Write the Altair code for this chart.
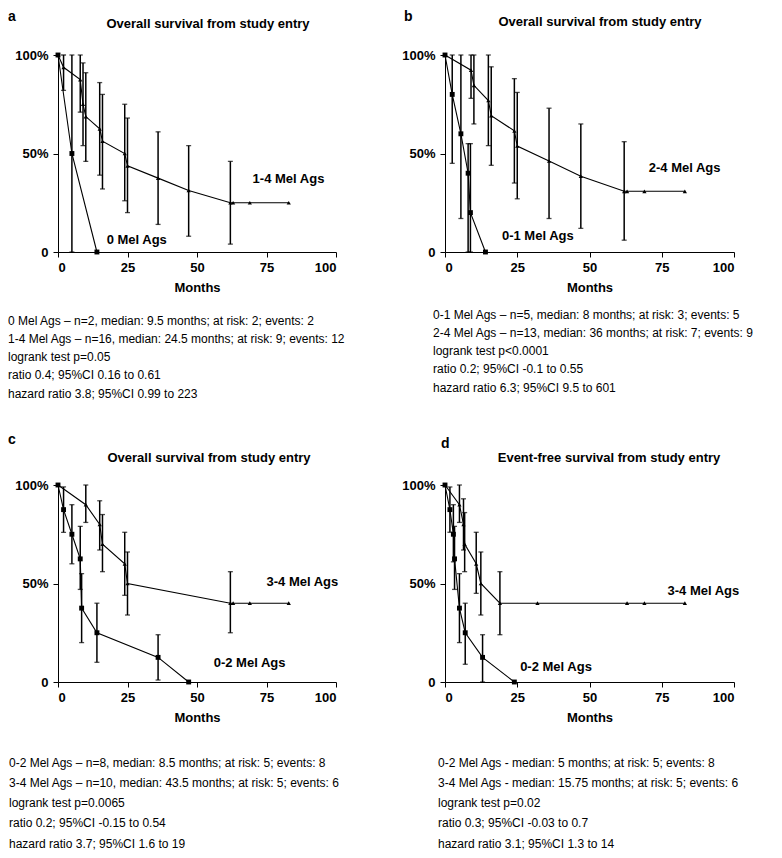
import altair as alt
import pandas as pd

FONT = "Liberation Sans"

# ---------------- Panel a ----------------
a_lo_x = [0, 5, 14]
a_lo_y = [100, 50, 0]
a_lo_err_x = [5]
a_lo_err_lo = [0]
a_lo_err_hi = [100]
a_hi_x = [0, 2, 8, 9, 10, 15, 16, 24, 25, 36, 47, 62, 63, 69, 83]
a_hi_y = [100, 93.75, 87.5, 75, 68.75, 62.5, 56.25, 50, 43.75, 37.5, 31.25, 25, 25, 25, 25]
a_hi_err_x = [2, 8, 9, 10, 15, 16, 24, 25, 36, 47, 62]
a_hi_err_lo = [82, 71, 54, 46, 39, 32, 26, 20, 14, 8, 4]
a_hi_err_hi = [100, 100, 96, 91, 86, 80, 75, 68, 61, 54, 46]
a_labels = ["1-4 Mel Ags", "0 Mel Ags"]
a_label_x = [70, 17.5]
a_label_y = [37, 6]
a_stats = [
    "0 Mel Ags – n=2, median: 9.5 months; at risk: 2; events: 2",
    "1-4 Mel Ags – n=16, median: 24.5 months; at risk: 9; events: 12",
    "logrank test p=0.05",
    "ratio 0.4; 95%CI 0.16 to 0.61",
    "hazard ratio 3.8; 95%CI 0.99 to 223",
]

# ---------------- Panel b ----------------
b_lo_x = [0, 2.5, 5.5, 8, 8.8, 14]
b_lo_y = [100, 80, 60, 40, 20, 0]
b_lo_err_x = [2.5, 5.5, 8, 8.8]
b_lo_err_lo = [45, 17, 0, 0]
b_lo_err_hi = [100, 100, 55, 55]
b_hi_x = [0, 9, 10, 15, 16, 24, 25, 36, 47, 62, 63, 69, 83]
b_hi_y = [100, 92.3, 84.6, 76.9, 69.2, 61.5, 53.8, 46.2, 38.5, 30.8, 30.8, 30.8, 30.8]
b_hi_err_x = [9, 10, 15, 16, 24, 25, 36, 47, 62]
b_hi_err_lo = [78, 65, 54, 44, 35, 27, 17, 12, 6]
b_hi_err_hi = [100, 100, 100, 94, 88, 81, 73, 65, 56]
b_labels = ["2-4 Mel Ags", "0-1 Mel Ags"]
b_label_x = [70.5, 19.7]
b_label_y = [42.5, 8]
b_stats = [
    "0-1 Mel Ags – n=5, median: 8 months; at risk: 3; events: 5",
    "2-4 Mel Ags – n=13, median: 36 months; at risk: 7; events: 9",
    "logrank test p<0.0001",
    "ratio 0.2; 95%CI -0.1 to 0.55",
    "hazard ratio 6.3; 95%CI 9.5 to 601",
]

# ---------------- Panel c ----------------
c_lo_x = [0, 2, 5, 8, 8.5, 14, 36, 47]
c_lo_y = [100, 87.5, 75, 62.5, 37.5, 25, 12.5, 0]
c_lo_err_x = [2, 5, 8, 8.5, 14, 36]
c_lo_err_lo = [76, 60, 47, 20, 10, 1]
c_lo_err_hi = [99, 90, 79, 55, 40, 24]
c_hi_x = [0, 10, 15, 16, 24, 25, 62, 63, 69, 83]
c_hi_y = [100, 90, 80, 70, 60, 50, 40, 40, 40, 40]
c_hi_err_x = [10, 15, 16, 24, 25, 62]
c_hi_err_lo = [81, 67, 56, 44, 34, 25]
c_hi_err_hi = [100, 92, 85, 76, 66, 56]
c_labels = ["3-4 Mel Ags", "0-2 Mel Ags"]
c_label_x = [75, 56]
c_label_y = [51, 9.6]
c_stats = [
    "0-2 Mel Ags – n=8, median: 8.5 months; at risk: 5; events: 8",
    "3-4 Mel Ags – n=10, median: 43.5 months; at risk: 5; events: 6",
    "logrank test p=0.0065",
    "ratio 0.2; 95%CI -0.15 to 0.54",
    "hazard ratio 3.7; 95%CI 1.6 to 19",
]

# ---------------- Panel d ----------------
d_lo_x = [0, 1.7, 2.9, 3.3, 5, 7, 13, 24]
d_lo_y = [100, 87.5, 75, 62.5, 37.5, 25, 12.5, 0]
d_lo_err_x = [1.7, 2.9, 3.3, 5, 7, 13]
d_lo_err_lo = [76, 61, 47, 20, 9, 0]
d_lo_err_hi = [99, 90, 79, 55, 40, 24]
d_hi_x = [0, 5, 6.4, 6.8, 10.8, 12.4, 19, 32, 63, 69, 83]
d_hi_y = [100, 90, 80, 70, 60, 50, 40, 40, 40, 40, 40]
d_hi_err_x = [5, 6.4, 6.8, 10.8, 12.4, 19]
d_hi_err_lo = [81, 67, 56, 45, 34, 24]
d_hi_err_hi = [100, 93, 86, 76, 66, 56]
d_labels = ["3-4 Mel Ags", "0-2 Mel Ags"]
d_label_x = [77, 26]
d_label_y = [46, 7.7]
d_stats = [
    "0-2 Mel Ags - median: 5 months; at risk: 5; events: 8",
    "3-4 Mel Ags - median: 15.75 months; at risk: 5; events: 6",
    "logrank test p=0.02",
    "ratio 0.3; 95%CI -0.03 to 0.7",
    "hazard ratio 3.1; 95%CI 1.3 to 14",
]

TITLE_OS = "Overall survival from study entry"
TITLE_EFS = "Event-free survival from study entry"


def make_panel(letter, title, lo_x, lo_y, lo_ex, lo_el, lo_eh, hi_x, hi_y, hi_ex, hi_el, hi_eh,
               labels, lab_x, lab_y, stats, width, height, letter_pos, title_pos, stats_pos):
    xscale = alt.Scale(domain=[0, 100], nice=False)
    yscale = alt.Scale(domain=[0, 100], nice=False)
    xaxis = alt.Axis(values=[0, 25, 50, 75, 100], title="Months", tickSize=5,
                     labelPadding=4, titlePadding=7)
    yaxis = alt.Axis(values=[0, 50, 100], title=None, tickSize=5, labelPadding=5,
                     labelExpr="datum.value == 0 ? '0' : datum.value + '%'")

    def X(f):
        return alt.X(f + ":Q", scale=xscale, axis=xaxis)

    def Y(f):
        return alt.Y(f + ":Q", scale=yscale, axis=yaxis)

    lo = pd.DataFrame({"x": lo_x, "y": lo_y, "i": range(len(lo_x))})
    hi = pd.DataFrame({"x": hi_x, "y": hi_y, "i": range(len(hi_x))})
    err = pd.DataFrame({"x": list(lo_ex) + list(hi_ex),
                        "lo": list(lo_el) + list(hi_el),
                        "hi": list(lo_eh) + list(hi_eh)})
    caps = pd.DataFrame({"x": list(err["x"]) * 2,
                         "y": list(err["lo"]) + list(err["hi"])})
    lab = pd.DataFrame({"t": labels, "x": lab_x, "y": lab_y})
    one = pd.DataFrame({"d": [0]})

    rules = alt.Chart(err).mark_rule(color="black", strokeWidth=1.5).encode(
        x=X("x"), y=Y("lo"), y2="hi:Q")
    capm = alt.Chart(caps).mark_tick(color="black", orient="horizontal", size=5,
                                     thickness=1.3).encode(x=X("x"), y=Y("y"))
    line_lo = alt.Chart(lo).mark_line(color="black", strokeWidth=1.1).encode(
        x=X("x"), y=Y("y"), order="i:Q")
    line_hi = alt.Chart(hi).mark_line(color="black", strokeWidth=1.1).encode(
        x=X("x"), y=Y("y"), order="i:Q")
    pts_lo = alt.Chart(lo).mark_point(shape="square", filled=True, color="black",
                                      size=24, opacity=1).encode(x=X("x"), y=Y("y"))
    pts_hi = alt.Chart(hi).mark_point(shape="triangle-up", filled=True, color="black",
                                      size=18, opacity=1).encode(x=X("x"), y=Y("y"))
    labt = alt.Chart(lab).mark_text(font=FONT, fontSize=13, fontWeight="bold",
                                    align="left", baseline="middle", color="black").encode(
        x=X("x"), y=Y("y"), text="t:N")
    lett = alt.Chart(one).mark_text(text=letter, font=FONT, fontSize=14, fontWeight="bold",
                                    align="left", baseline="middle", color="black").encode(
        x=alt.value(letter_pos[0]), y=alt.value(letter_pos[1]))
    titt = alt.Chart(one).mark_text(text=title, font=FONT, fontSize=13, fontWeight="bold",
                                    align="center", baseline="middle", color="black").encode(
        x=alt.value(title_pos[0]), y=alt.value(title_pos[1]))
    stat = alt.Chart(one).mark_text(text=stats, font=FONT, fontSize=12, align="left",
                                    baseline="alphabetic", lineHeight=stats_pos[2],
                                    color="black").encode(
        x=alt.value(stats_pos[0]), y=alt.value(stats_pos[1]))

    return alt.layer(rules, capm, line_lo, line_hi, pts_lo, pts_hi, labt, lett, titt, stat
                     ).properties(width=width, height=height)


H = 197
WL = 278
WR = 289

pa = make_panel("a", TITLE_OS, a_lo_x, a_lo_y, a_lo_err_x, a_lo_err_lo, a_lo_err_hi,
                a_hi_x, a_hi_y, a_hi_err_x, a_hi_err_lo, a_hi_err_hi,
                a_labels, a_label_x, a_label_y, a_stats, WL, H,
                (-50, -38), (150, -31), (-50, 269.5, 18.3))
pb = make_panel("b", TITLE_OS, b_lo_x, b_lo_y, b_lo_err_x, b_lo_err_lo, b_lo_err_hi,
                b_hi_x, b_hi_y, b_hi_err_x, b_hi_err_lo, b_hi_err_hi,
                b_labels, b_label_x, b_label_y, b_stats, WR, H,
                (-41, -38), (155, -33), (-12, 263.5, 18.3))
pc = make_panel("c", TITLE_OS, c_lo_x, c_lo_y, c_lo_err_x, c_lo_err_lo, c_lo_err_hi,
                c_hi_x, c_hi_y, c_hi_err_x, c_hi_err_lo, c_hi_err_hi,
                c_labels, c_label_x, c_label_y, c_stats, WL, H,
                (-50, -45), (151, -27), (-49, 281.5, 20.3))
pdd = make_panel("d", TITLE_EFS, d_lo_x, d_lo_y, d_lo_err_x, d_lo_err_lo, d_lo_err_hi,
                 d_hi_x, d_hi_y, d_hi_err_x, d_hi_err_lo, d_hi_err_hi,
                 d_labels, d_label_x, d_label_y, d_stats, WR, H,
                 (-4, -41), (164, -27), (-7, 281.5, 20.3))

chart = alt.concat(pa, pb, pc, pdd, columns=2, spacing={"row": 233, "column": 109},
                   bounds="flush").properties(
    padding={"top": 2, "left": 0, "right": 0, "bottom": 0}
).configure_view(stroke=None).configure_axis(
    labelFont=FONT, labelFontSize=13, labelFontWeight="bold", labelColor="black",
    titleFont=FONT, titleFontSize=13, titleFontWeight="bold", titleColor="black",
    domainColor="black", tickColor="black", grid=False, domainWidth=1, tickWidth=1,
)

chart.save("out.html", embed_options={"renderer": "svg", "actions": False})
